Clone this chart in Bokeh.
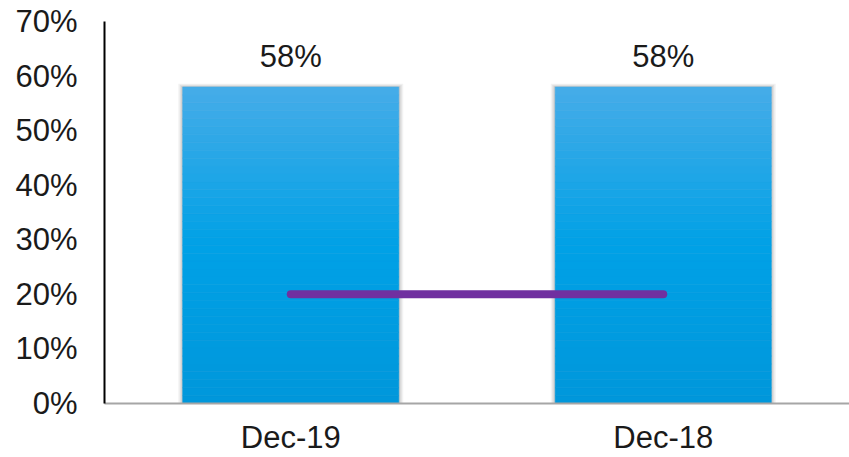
from bokeh.plotting import figure
from bokeh.models import FactorRange, NumeralTickFormatter, ColumnDataSource, FixedTicker
from bokeh.core.properties import value
from bokeh.embed import file_html
from bokeh.resources import INLINE

categories = ["Dec-19", "Dec-18"]
bar_values = [0.58, 0.58]
target_values = [0.20, 0.20]
bar_labels = ["58%", "58%"]
y_ticks = [0, 0.1, 0.2, 0.3, 0.4, 0.5, 0.6, 0.7]

FONT = "Liberation Sans"
BAR_W = 0.58

p = figure(x_range=FactorRange(*categories, range_padding=0), y_range=(0, 0.7),
           width=849, height=457, output_backend="svg", toolbar_location=None,
           min_border_left=104, min_border_right=0, min_border_top=21, min_border_bottom=52)
p.outline_line_color = None
p.grid.grid_line_color = None
p.background_fill_color = "white"

# soft shadow behind bars
for extra, alpha in [(0.024, 0.05), (0.016, 0.07), (0.008, 0.09)]:
    p.vbar(x=categories, top=[v + extra * 0.25 for v in bar_values], bottom=0,
           width=BAR_W + extra, fill_color="#000000", fill_alpha=alpha, line_color=None)

# vertical gradient fill (styling only): split each bar into thin bands
def lerp(c1, c2, t):
    return tuple(int(round(a + (b - a) * t)) for a, b in zip(c1, c2))

top_c = (70, 172, 232)
mid_c = (0, 161, 230)
bot_c = (0, 151, 219)
N = 40
for i in range(N):
    f0 = i / N
    f1 = (i + 1) / N
    fm = (f0 + f1) / 2
    if fm >= 0.5:
        c = lerp(mid_c, top_c, (fm - 0.5) / 0.5)
    else:
        c = lerp(bot_c, mid_c, fm / 0.5)
    p.vbar(x=categories, bottom=[v * f0 for v in bar_values], top=[v * f1 for v in bar_values],
           width=BAR_W, fill_color="#%02x%02x%02x" % c, line_color="#%02x%02x%02x" % c, line_width=0.6)

# target line
p.line(x=categories, y=target_values, line_color="#7030A0", line_width=8, line_cap="round")

# value labels
src = ColumnDataSource(dict(x=categories, y=bar_values, t=bar_labels))
p.text(x="x", y="y", text="t", source=src, text_align="center", text_baseline="bottom",
       y_offset=-13, text_font=value(FONT), text_font_size="31px", text_color="#1a1a1a")

# axes
p.yaxis.ticker = FixedTicker(ticks=y_ticks)
p.yaxis.formatter = NumeralTickFormatter(format="0%")
p.yaxis.major_tick_line_color = None
p.yaxis.minor_tick_line_color = None
p.yaxis.major_tick_out = 0
p.yaxis.major_label_standoff = 27
p.yaxis.axis_line_color = "black"
p.yaxis.axis_line_width = 2
p.yaxis.major_label_text_font = FONT
p.yaxis.major_label_text_font_size = "31px"
p.yaxis.major_label_text_color = "#1a1a1a"

p.xaxis.major_tick_line_color = None
p.xaxis.minor_tick_line_color = None
p.xaxis.major_tick_out = 0
p.xaxis.major_label_standoff = 16
p.xaxis.axis_line_color = "#a6a6a6"
p.xaxis.axis_line_width = 2
p.xaxis.major_label_text_font = FONT
p.xaxis.major_label_text_font_size = "31px"
p.xaxis.major_label_text_color = "#1a1a1a"

open("out.html", "w").write(file_html(p, INLINE))
